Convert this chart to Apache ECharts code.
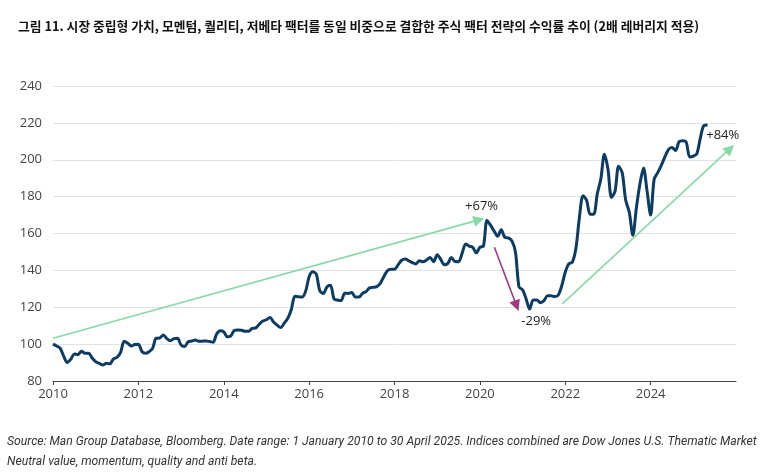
<!DOCTYPE html>
<html>
<head>
<meta charset="utf-8">
<script src="https://cdn.jsdelivr.net/npm/echarts@6/dist/echarts.min.js"></script>
<style>
html,body{margin:0;padding:0;background:#fff;}
#chart{width:773px;height:474px;}
</style>
</head>
<body>
<div id="chart"></div>
<script>
// Monthly index values (start 1 Jan 2010 = 100, then month-ends)
const v2010 = [100, 99, 97.8, 93.5, 90.1, 91.8, 94.6, 94.3, 96.2, 95, 95, 92.5];
const v2011 = [90.5, 89.6, 88.7, 89.6, 89.3, 92, 92.8, 95.5, 101.5, 100.5, 99, 99.8];
const v2012 = [100, 96, 95, 95.9, 97.7, 103.2, 103.3, 105, 103, 101.8, 103, 103.2];
const v2013 = [99.5, 98.7, 101.3, 101.7, 102.2, 101.5, 101.6, 101.7, 101.4, 101, 105.5, 107.3];
const v2014 = [106.7, 104, 104.5, 107.5, 107.7, 107.5, 107, 107, 108.5, 108.8, 110.8, 112.5];
const v2015 = [113.2, 114.5, 112, 110.3, 109, 111.3, 114, 118.8, 126, 125.7, 125.5, 128.5];
const v2016 = [136.6, 139.3, 138, 129, 127.5, 131, 132, 124.5, 123.9, 123.6, 127.6, 127.5];
const v2017 = [128, 125.5, 125.5, 127.5, 128.5, 130.5, 130.8, 131.2, 133, 136.6, 139.8, 140.6];
const v2018 = [140.6, 143, 145.5, 146.2, 145.2, 144.2, 143.5, 145.2, 144.7, 145.6, 147, 144.7];
const v2019 = [148.5, 146, 143, 143.8, 147, 144.8, 144.7, 149.2, 154.3, 153.2, 152.5, 149.5];
const v2020 = [152.5, 153.2, 167, 164.5, 161.3, 158.5, 162, 158, 157.6, 156, 150, 131];
const v2021 = [129.5, 124.5, 119, 124, 124, 122.5, 123.5, 126.3, 126.3, 125.8, 126.5, 131.5];
const v2022 = [139, 143.5, 144.5, 152, 169, 180.5, 178, 170.5, 170.5, 181.5, 189.5, 203];
const v2023 = [195, 179.5, 183, 196.5, 193, 178, 171.5, 159, 174, 187, 195.5, 183];
const v2024 = [170, 189.5, 193, 197, 201.5, 205.5, 206.6, 205, 209.8, 210.3, 209.5, 201.5];
const v2025 = [202, 203.3, 212, 218.6, 218.8];

const startYear = 2010;
const yearlyValues = [v2010, v2011, v2012, v2013, v2014, v2015, v2016, v2017, v2018, v2019, v2020, v2021, v2022, v2023, v2024, v2025];

// Axis settings
const xMin = 2010, xMax = 2026, xStep = 2;
const xTickValues = [2010, 2012, 2014, 2016, 2018, 2020, 2022, 2024];
const yMin = 80, yMax = 240, yStep = 20;

// Annotations: arrows [x1, y1, x2, y2] in data space, and labels
const arrowGreen1 = [2010.0, 103.2, 2019.98, 167.4];
const arrowPurple = [2020.34, 152.5, 2020.86, 120.8];
const arrowGreen2 = [2021.93, 121.8, 2025.86, 206.0];
const labelTexts = ['+67%', '-29%', '+84%'];
const labelPos = [[2020.04, 174.9], [2021.32, 112.2], [2025.69, 213.4]];

const titleText = '그림 11. 시장 중립형 가치, 모멘텀, 퀄리티, 저베타 팩터를 동일 비중으로 결합한 주식 팩터 전략의 수익률 추이 (2배 레버리지 적용)';
const sourceLine1 = 'Source: Man Group Database, Bloomberg. Date range: 1 January 2010 to 30 April 2025. Indices combined are Dow Jones U.S. Thematic Market';
const sourceLine2 = 'Neutral value, momentum, quality and anti beta.';

const seriesData = [];
yearlyValues.forEach((arr, yi) => {
  arr.forEach((v, mi) => {
    seriesData.push([startYear + yi + mi / 12, v]);
  });
});

const GREEN = '#88d9a8';
const PURPLE = '#a3387f';
function arrowItem(a, color) {
  return [
    { coord: [a[0], a[1]], symbol: 'none', lineStyle: { color: color, width: 1.6, type: 'solid' }, itemStyle: { color: color } },
    { coord: [a[2], a[3]], symbol: 'triangle', symbolSize: 11, itemStyle: { color: color } }
  ];
}

const chart = echarts.init(document.getElementById('chart'), null, { renderer: 'canvas' });
chart.setOption({
  animation: false,
  backgroundColor: '#ffffff',
  title: {
    text: titleText,
    left: 13,
    top: 15,
    textStyle: { fontFamily: 'Noto Sans CJK KR', fontWeight: 'bold', fontSize: 12.8, color: '#111' }
  },
  grid: { left: 53, right: 37, top: 86, bottom: 93, containLabel: false },
  xAxis: {
    type: 'value',
    min: xMin, max: xMax, interval: xStep,
    axisLine: { show: true, lineStyle: { color: '#444', width: 1 } },
    axisTick: { show: true, length: 4, customValues: xTickValues, lineStyle: { color: '#444' } },
    axisLabel: { color: '#444', fontSize: 13, fontFamily: 'Open Sans', margin: 7, customValues: xTickValues, formatter: v => String(v) },
    splitLine: { show: false }
  },
  yAxis: {
    type: 'value',
    min: yMin, max: yMax, interval: yStep,
    axisLine: { show: false },
    axisTick: { show: false },
    axisLabel: { color: '#444', fontSize: 13, fontFamily: 'Open Sans', margin: 11 },
    splitLine: { show: true, lineStyle: { color: '#e2e2e2', width: 1 } }
  },
  series: [
    {
      type: 'line',
      data: seriesData,
      showSymbol: false,
      smooth: 0.3,
      lineStyle: { color: '#0c3b64', width: 3 },
      itemStyle: { color: '#0c3b64' },
      z: 3,
      markLine: {
        silent: true,
        symbol: ['none', 'triangle'],
        symbolSize: 11,
        label: { show: false },
        emphasis: { disabled: true },
        data: [
          arrowItem(arrowGreen1, GREEN),
          arrowItem(arrowPurple, PURPLE),
          arrowItem(arrowGreen2, GREEN)
        ]
      },
      markPoint: {
        silent: true,
        symbol: 'circle',
        symbolSize: 0,
        data: labelTexts.map((t, i) => ({
          coord: labelPos[i],
          label: { show: true, formatter: t, position: 'inside', color: '#222', fontSize: 13, fontFamily: 'Open Sans' }
        }))
      }
    }
  ],
  graphic: [
    { type: 'text', left: 7, top: 436, style: { text: sourceLine1, fontFamily: 'Roboto', fontStyle: 'italic', fontSize: 12.2, fill: '#333' } },
    { type: 'text', left: 7, top: 456, style: { text: sourceLine2, fontFamily: 'Roboto', fontStyle: 'italic', fontSize: 12.2, fill: '#333' } }
  ]
});
</script>
</body>
</html>
